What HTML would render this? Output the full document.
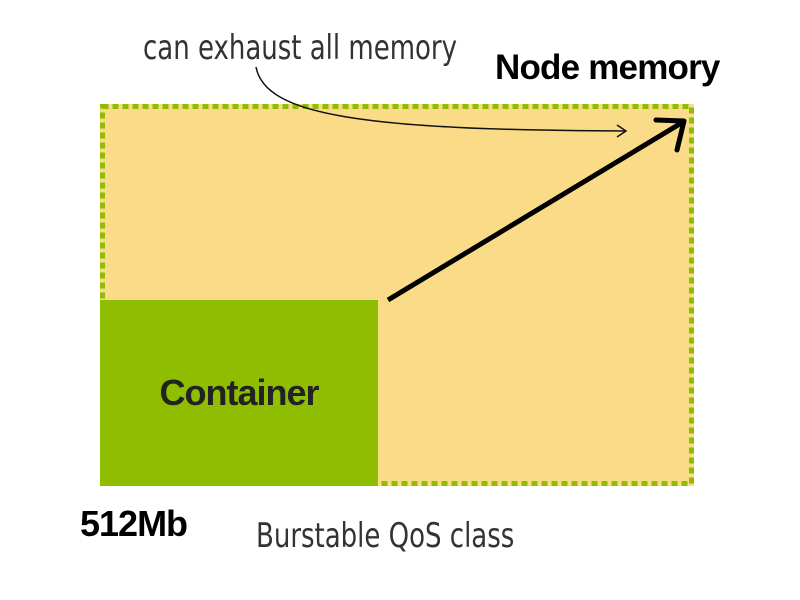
<!DOCTYPE html>
<html><head><style>
body{margin:0;width:800px;height:600px;background:#fff;position:relative;overflow:hidden;font-family:"Liberation Sans",sans-serif}
.c{position:absolute;left:100px;top:300px;width:278px;height:186px;background:#8fbe00;color:#222;font-weight:bold;font-size:36px;display:flex;align-items:center;justify-content:center;letter-spacing:-1px}
.hand{position:absolute;font-family:"DejaVu Sans Condensed","Liberation Sans Narrow",sans-serif;color:#333;font-weight:200;white-space:nowrap}
</style></head><body>
<svg style="position:absolute;left:0;top:0" width="800" height="600">
<rect x="100" y="104" width="594" height="382" fill="#fadb87"/>
<rect x="102.5" y="106.5" width="589" height="377" fill="none" stroke="#8fbe00" stroke-width="5" stroke-dasharray="6 4"/>
</svg>
<div class="c">Container</div>
<svg style="position:absolute;left:0;top:0" width="800" height="600">
<path d="M256 67 C265 115 360 130 625 131" fill="none" stroke="#111" stroke-width="1.5"/>
<path d="M617 125 L626 131 L617 137" fill="none" stroke="#111" stroke-width="1.5"/>
<line x1="388" y1="300" x2="683" y2="122" stroke="#000" stroke-width="5"/>
<path d="M656 120 L684 121 L677 150" fill="none" stroke="#000" stroke-width="5" stroke-linecap="round" stroke-linejoin="round"/>
</svg>
<div style="position:absolute;left:495px;top:48px;font-weight:bold;font-size:35px;letter-spacing:-0.8px">Node memory</div>
<div style="position:absolute;left:80px;top:503px;font-weight:bold;font-size:36px;letter-spacing:-1px">512Mb</div>
<div class="hand" style="left:143px;top:28px;font-size:34px;transform:scaleX(0.85);transform-origin:left">can exhaust all memory</div>
<div class="hand" style="left:256px;top:516px;font-size:34px;transform:scaleX(0.85);transform-origin:left">Burstable QoS class</div>
</body></html>
